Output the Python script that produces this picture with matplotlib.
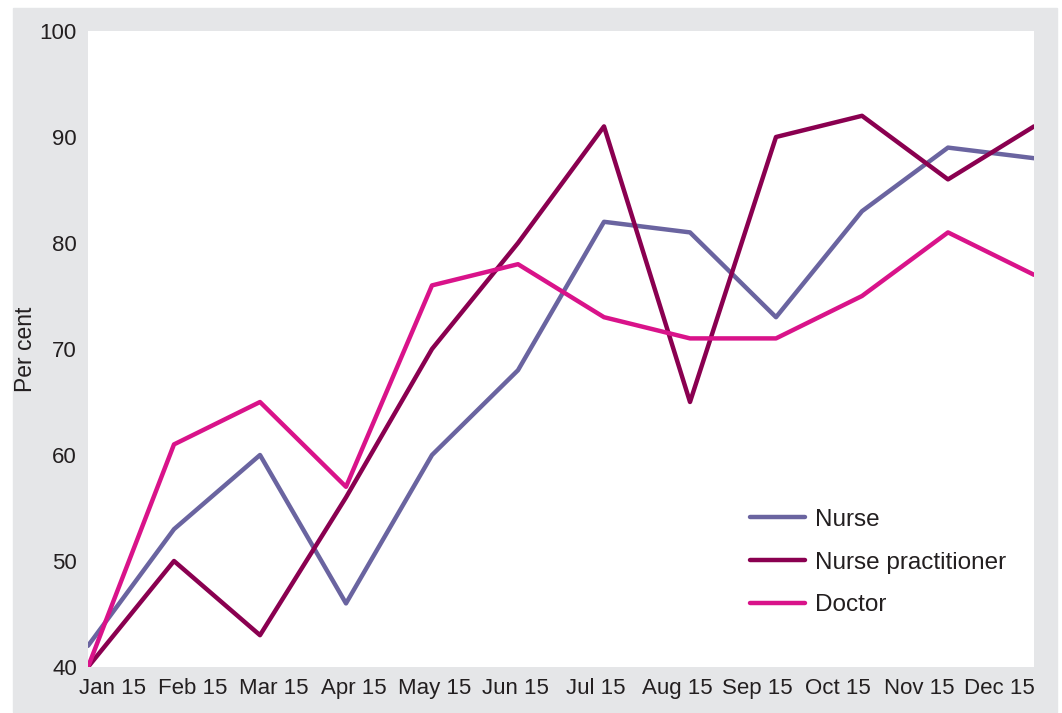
import numpy as np
import matplotlib
matplotlib.use('Agg')
import matplotlib.pyplot as plt
from matplotlib.patches import Rectangle

plt.rcParams['font.family'] = ['Liberation Sans', 'DejaVu Sans']

months = ['Jan 15', 'Feb 15', 'Mar 15', 'Apr 15', 'May 15', 'Jun 15',
          'Jul 15', 'Aug 15', 'Sep 15', 'Oct 15', 'Nov 15', 'Dec 15']
nurse = [42, 53, 60, 46, 60, 68, 82, 81, 73, 83, 89, 88]
nurse_prac = [40, 50, 43, 56, 70, 80, 91, 65, 90, 92, 86, 91]
doctor = [40, 61, 65, 57, 76, 78, 73, 71, 71, 75, 81, 77]

fig = plt.figure(figsize=(10.62, 7.13), dpi=100)
# grey frame behind the chart
fig.patches.append(Rectangle((13/1062, 1/713), 1044/1062, 704/713,
                             transform=fig.transFigure, color='#e5e6e8', zorder=-1))

ax = fig.add_axes([88/1062, 46/713, 946/1062, 636/713])
ax.set_facecolor('white')
x = np.arange(len(months))
ax.plot(x, nurse, color='#6a64a0', lw=3.2, label='Nurse', solid_capstyle='round')
ax.plot(x, nurse_prac, color='#8a0050', lw=3.2, label='Nurse practitioner', solid_capstyle='round')
ax.plot(x, doctor, color='#d9138a', lw=3.2, label='Doctor', solid_capstyle='round')

ax.set_xlim(0, 11)
ax.set_ylim(40, 100)
# labels sit evenly across the axis width, not exactly under the points
lab_pos = 0.28 + x * (10.32 / 11)
ax.set_xticks(lab_pos)
ax.set_xticklabels(months)
ax.set_yticks([40, 50, 60, 70, 80, 90, 100])
ax.tick_params(length=0, labelsize=16, colors='#231f20')
ax.tick_params(axis='x', pad=8)
ax.tick_params(axis='y', pad=8)
for s in ax.spines.values():
    s.set_visible(False)
ax.set_ylabel('Per cent', fontsize=16.5, color='#231f20', labelpad=2)

leg = ax.legend(loc='upper left', bbox_to_anchor=(0.70, 0.249), frameon=False,
                fontsize=17.5, handlelength=2.26, handletextpad=0.41,
                labelspacing=0.86, borderpad=0, borderaxespad=0)
for t in leg.get_texts():
    t.set_color('#231f20')

fig.savefig('out.png', dpi=100, facecolor='white')
